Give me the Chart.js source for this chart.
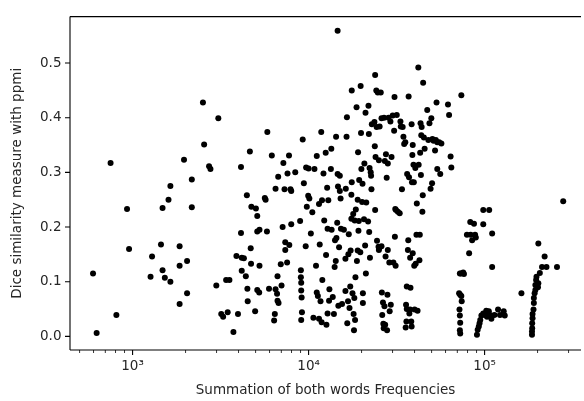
<!DOCTYPE html>
<html>
<head>
<meta charset="utf-8">
<script src="https://cdn.jsdelivr.net/npm/chart.js@4.4.0/dist/chart.umd.min.js"></script>
<style>
  html, body { margin: 0; padding: 0; background: #fff; }
</style>
</head>
<body>
<canvas id="scatter-chart" width="584" height="401"></canvas>
<script>
// sum of both word frequencies (x) and dice similarity with ppmi (y)
let freqValues = [
  596, 625, 750, 809, 930, 955, 1265, 1290, 1450, 1480,
  1480, 1525, 1600, 1640, 1640, 1850, 1850, 1850, 1960, 2040,
  2040, 2170, 2170, 2510, 2550, 2720, 2770, 2990, 3070, 3190,
  3270, 3400, 3470, 3550, 3740, 3890, 3970, 4130, 4130, 4170,
  4170, 4290, 4460, 4400, 4490, 4510, 4640, 4690, 4710, 4730,
  4970, 5020, 5110, 5110, 5260, 5260, 5110, 5240, 5640, 5700,
  5800, 5830, 5960, 6180, 6370, 6430, 6490, 6490, 6620, 6660,
  6660, 6720, 6750, 6950, 7020, 7120, 7190, 7300, 7370, 7370,
  7550, 7590, 7740, 7770, 7890, 7970, 7970, 8400, 8950, 9040,
  9040, 9080, 9080, 9130, 9170, 9080, 9260, 9400, 9630, 9680,
  9770, 9950, 10000, 10100, 10300, 10500, 10650, 10800, 11020, 11130,
  11130, 11290, 11460, 11460, 11570, 11690, 11800, 11860, 11920, 11970,
  12150, 12270, 12510, 12570, 12630, 12750, 12820, 12820, 12940, 13070,
  13130, 13390, 13460, 13520, 13720, 13930, 14060, 14130, 14270, 14330,
  14400, 14540, 14620, 14690, 14760, 14900, 15050, 15050, 15200, 15270,
  15490, 15870, 16190, 16190, 16270, 16430, 16510, 16750, 16590, 16830,
  16920, 17080, 17250, 17330, 17500, 17500, 17590, 17590, 17760, 17930,
  18020, 18110, 18190, 18280, 18370, 18460, 18550, 18730, 18820, 19010,
  19010, 19100, 19200, 19290, 19380, 19670, 19760, 19860, 19950, 20150,
  20250, 20350, 20350, 20650, 20750, 20950, 21060, 21160, 21260, 21780,
  21890, 22000, 22100, 22210, 22320, 22540, 22650, 22760, 22870, 23660,
  23780, 23890, 23890, 24010, 24250, 24360, 24480, 24720, 24970, 25090,
  25090, 25210, 25330, 25700, 25960, 25960, 26080, 26210, 26460, 26590,
  26720, 26850, 26980, 27110, 27240, 27380, 27510, 27780, 27920, 28060,
  28190, 28190, 28470, 28750, 28890, 29170, 29310, 29600, 30040, 30330,
  30620, 30780, 30930, 31080, 31230, 31380, 31690, 32150, 32940, 33260,
  33420, 33920, 34240, 34580, 34920, 35440, 35610, 35790, 35960, 36130,
  36130, 36310, 36670, 36840, 37020, 37200, 37380, 37750, 37750, 37930,
  38310, 38500, 38500, 38680, 38870, 39060, 39060, 39440, 39630, 39830,
  40020, 40410, 40610, 41010, 41210, 41610, 42020, 42220, 42630, 42840,
  43050, 43260, 43470, 43680, 43890, 44320, 44540, 44760, 45200, 45640,
  47220, 47920, 48620, 49340, 49820, 50310, 50550, 51300, 52300, 52820,
  53330, 53850, 53850, 55180, 55990, 56810, 61940, 62850, 64100, 64720,
  73770, 71650, 72350, 72700, 73410, 74130, 75590, 76330, 72000, 72350,
  72700, 72350, 72700, 73770, 79350, 81690, 82900, 83310, 84940, 87030,
  88310, 89170, 98270, 98270, 106200, 110400, 110400, 90500, 91360, 92700,
  93610, 94500, 95910, 98270, 100700, 102200, 103200, 105700, 107200, 109300,
  113700, 119300, 122300, 128400, 130200, 161900, 185900, 185900, 186400, 186400,
  187300, 187300, 189600, 190500, 190500, 192400, 194300, 194300, 196200, 197200,
  199100, 201000, 202000, 202000, 206000, 212000, 219300, 224700, 257800, 279700,
  14620
];

let diceValues = [
  0.115, 0.006, 0.317, 0.039, 0.233, 0.160, 0.109, 0.146, 0.168, 0.235,
  0.121, 0.107, 0.250, 0.100, 0.275, 0.059, 0.165, 0.129, 0.323, 0.138,
  0.079, 0.287, 0.236, 0.428, 0.351, 0.311, 0.306, 0.093, 0.399, 0.041,
  0.036, 0.103, 0.044, 0.103, 0.008, 0.147, 0.041, 0.310, 0.189, 0.144,
  0.120, 0.143, 0.258, 0.110, 0.087, 0.064, 0.338, 0.161, 0.133, 0.237,
  0.046, 0.234, 0.220, 0.192, 0.195, 0.129, 0.085, 0.080, 0.253, 0.250,
  0.192, 0.374, 0.087, 0.331, 0.029, 0.041, 0.086, 0.270, 0.078, 0.065,
  0.110, 0.292, 0.061, 0.132, 0.093, 0.200, 0.317, 0.269, 0.172, 0.158,
  0.135, 0.298, 0.331, 0.167, 0.269, 0.266, 0.205, 0.300, 0.211, 0.121,
  0.108, 0.098, 0.084, 0.071, 0.044, 0.030, 0.360, 0.280, 0.165, 0.309,
  0.237, 0.257, 0.307, 0.252, 0.188, 0.227, 0.034, 0.306, 0.129, 0.330,
  0.080, 0.074, 0.242, 0.032, 0.168, 0.064, 0.374, 0.026, 0.249, 0.103,
  0.298, 0.212, 0.336, 0.149, 0.021, 0.272, 0.042, 0.197, 0.249, 0.065,
  0.086, 0.306, 0.343, 0.195, 0.072, 0.041, 0.127, 0.176, 0.138, 0.365,
  0.180, 0.208, 0.297, 0.274, 0.056, 0.163, 0.294, 0.266, 0.252, 0.197,
  0.059, 0.195, 0.142, 0.083, 0.270, 0.365, 0.401, 0.064, 0.024, 0.150,
  0.187, 0.052, 0.091, 0.157, 0.215, 0.259, 0.282, 0.450, 0.079, 0.224,
  0.041, 0.011, 0.070, 0.212, 0.030, 0.108, 0.232, 0.419, 0.138, 0.250,
  0.157, 0.337, 0.193, 0.211, 0.286, 0.154, 0.458, 0.372, 0.306, 0.246,
  0.279, 0.079, 0.061, 0.214, 0.316, 0.166, 0.409, 0.115, 0.245, 0.210,
  0.422, 0.370, 0.191, 0.308, 0.144, 0.300, 0.294, 0.269, 0.388, 0.392,
  0.348, 0.231, 0.478, 0.328, 0.450, 0.383, 0.175, 0.446, 0.164, 0.322,
  0.158, 0.161, 0.384, 0.446, 0.399, 0.165, 0.080, 0.039, 0.062, 0.023,
  0.015, 0.400, 0.055, 0.321, 0.021, 0.146, 0.333, 0.290, 0.011, 0.076,
  0.316, 0.158, 0.400, 0.135, 0.046, 0.393, 0.058, 0.328, 0.404, 0.135,
  0.376, 0.438, 0.182, 0.233, 0.129, 0.231, 0.405, 0.228, 0.225, 0.393,
  0.384, 0.269, 0.383, 0.365, 0.352, 0.355, 0.016, 0.058, 0.027, 0.091,
  0.050, 0.297, 0.158, 0.176, 0.439, 0.291, 0.042, 0.144, 0.049, 0.089,
  0.027, 0.388, 0.018, 0.282, 0.332, 0.350, 0.152, 0.314, 0.282, 0.129,
  0.049, 0.308, 0.133, 0.186, 0.243, 0.047, 0.492, 0.314, 0.139, 0.186,
  0.336, 0.390, 0.295, 0.368, 0.383, 0.228, 0.258, 0.464, 0.364, 0.343,
  0.414, 0.359, 0.390, 0.270, 0.399, 0.280, 0.361, 0.358, 0.340, 0.359,
  0.428, 0.355, 0.306, 0.355, 0.297, 0.353, 0.424, 0.405, 0.329, 0.309,
  0.441, 0.079, 0.115, 0.076, 0.115, 0.064, 0.117, 0.114, 0.049, 0.038,
  0.025, 0.011, 0.005, 0.074, 0.186, 0.152, 0.209, 0.186, 0.176, 0.206,
  0.186, 0.181, 0.231, 0.205, 0.231, 0.188, 0.127, 0.003, 0.012, 0.018,
  0.024, 0.030, 0.038, 0.042, 0.039, 0.047, 0.036, 0.046, 0.039, 0.032,
  0.039, 0.049, 0.039, 0.046, 0.038, 0.079, 0.003, 0.009, 0.015, 0.024,
  0.033, 0.041, 0.049, 0.061, 0.070, 0.079, 0.085, 0.094, 0.103, 0.109,
  0.092, 0.090, 0.097, 0.170, 0.116, 0.127, 0.146, 0.127, 0.127, 0.247,
  0.559
];

let xMajorTicks = [1000, 10000, 100000];
let xTickLabels = ['10³', '10⁴', '10⁵'];
let xMinorTicks = [500, 600, 700, 800, 900,
  2000, 3000, 4000, 5000, 6000, 7000, 8000, 9000,
  20000, 30000, 40000, 50000, 60000, 70000, 80000, 90000,
  200000, 300000];
let yTicks = [0, 0.1, 0.2, 0.3, 0.4, 0.5];

let textColor = '#262626';
let font = { family: 'DejaVu Sans', size: 13.5 };

// matplotlib-like spines (left, top, bottom) and outward tick marks
let axesFrame = {
  id: 'axesFrame',
  afterDraw(chart) {
    let ctx = chart.ctx;
    let a = chart.chartArea;
    let xs = chart.scales.x;
    let ys = chart.scales.y;
    ctx.save();
    ctx.strokeStyle = '#000';
    ctx.lineWidth = 1.1;
    ctx.beginPath();
    ctx.moveTo(a.left, a.top);
    ctx.lineTo(a.left, a.bottom);
    ctx.moveTo(a.left, a.top);
    ctx.lineTo(a.right, a.top);
    ctx.moveTo(a.left, a.bottom);
    ctx.lineTo(a.right, a.bottom);
    ctx.stroke();

    ctx.lineWidth = 1.1;
    ctx.beginPath();
    xMajorTicks.forEach(v => {
      let px = xs.getPixelForValue(v);
      ctx.moveTo(px, a.bottom);
      ctx.lineTo(px, a.bottom + 5);
    });
    yTicks.forEach(v => {
      let py = ys.getPixelForValue(v);
      ctx.moveTo(a.left, py);
      ctx.lineTo(a.left - 5, py);
    });
    ctx.stroke();

    ctx.lineWidth = 0.8;
    ctx.beginPath();
    xMinorTicks.forEach(v => {
      let px = xs.getPixelForValue(v);
      if (px < a.left || px > a.right) return;
      ctx.moveTo(px, a.bottom);
      ctx.lineTo(px, a.bottom + 3);
    });
    ctx.stroke();
    ctx.restore();
  }
};

let points = freqValues.map((f, i) => ({ x: f, y: diceValues[i] }));

new Chart(document.getElementById('scatter-chart'), {
  type: 'scatter',
  data: {
    datasets: [{
      data: points,
      backgroundColor: '#000',
      borderColor: '#000',
      borderWidth: 0,
      pointRadius: 3,
      pointHoverRadius: 3,
    }],
  },
  options: {
    responsive: false,
    animation: false,
    layout: { padding: { top: 15, right: 0, bottom: 0, left: 0 } },
    plugins: { legend: { display: false }, tooltip: { enabled: false } },
    scales: {
      x: {
        type: 'logarithmic',
        min: 441,
        max: 353000,
        grid: { display: false, drawTicks: false },
        border: { display: false },
        afterBuildTicks: s => { s.ticks = xMajorTicks.map(v => ({ value: v })); },
        afterFit: s => { s.height = 51; },
        ticks: {
          autoSkip: false,
          maxRotation: 0,
          padding: 8,
          color: textColor,
          font: font,
          callback: (v, i) => xTickLabels[i],
        },
        title: {
          display: true,
          text: 'Summation of both words Frequencies',
          color: textColor,
          font: font,
          padding: { top: 0, bottom: 2.5 },
        },
      },
      y: {
        min: -0.025,
        max: 0.585,
        grid: { display: false, drawTicks: false },
        border: { display: false },
        afterBuildTicks: s => { s.ticks = yTicks.map(v => ({ value: v })); },
        afterFit: s => { s.width = 70; },
        ticks: {
          padding: 8.5,
          color: textColor,
          font: font,
          callback: v => v.toFixed(1),
        },
        title: {
          display: true,
          text: 'Dice similarity measure with ppmi',
          color: textColor,
          font: font,
          padding: { top: 9.5, bottom: 0 },
        },
      },
    },
  },
  plugins: [axesFrame],
});
</script>
</body>
</html>
